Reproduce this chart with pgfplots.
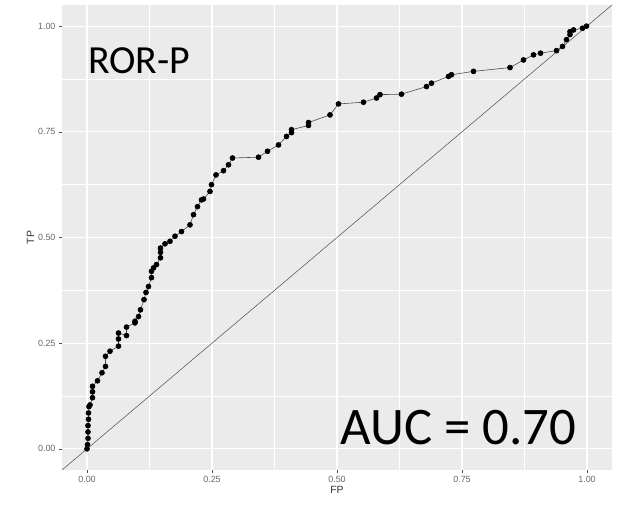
\documentclass[border=0pt]{standalone}
\usepackage{fontspec}
\setmainfont{Liberation Sans}
\newfontfamily\calibri{Carlito}
\usepackage{pgfplots}
\pgfplotsset{compat=1.18}
\definecolor{ggbg}{HTML}{EBEBEB}
\definecolor{ggtick}{HTML}{4D4D4D}

\pgfplotstableread{
fp tp
0.000 0.000
0.001 0.010
0.002 0.025
0.002 0.040
0.002 0.055
0.003 0.070
0.003 0.085
0.004 0.100
0.006 0.104
0.011 0.121
0.011 0.135
0.011 0.148
0.021 0.161
0.030 0.180
0.037 0.195
0.037 0.219
0.046 0.231
0.063 0.243
0.063 0.260
0.063 0.274
0.079 0.268
0.079 0.288
0.096 0.298
0.096 0.302
0.103 0.313
0.107 0.329
0.114 0.353
0.118 0.370
0.123 0.384
0.129 0.405
0.129 0.420
0.133 0.428
0.139 0.436
0.147 0.452
0.147 0.465
0.147 0.475
0.156 0.485
0.166 0.491
0.176 0.503
0.189 0.514
0.206 0.530
0.213 0.554
0.221 0.573
0.229 0.589
0.233 0.591
0.246 0.609
0.249 0.625
0.258 0.648
0.273 0.658
0.283 0.672
0.291 0.688
0.343 0.690
0.361 0.704
0.383 0.719
0.399 0.739
0.409 0.748
0.409 0.755
0.443 0.765
0.443 0.772
0.486 0.790
0.503 0.816
0.553 0.820
0.579 0.830
0.586 0.838
0.629 0.839
0.679 0.857
0.689 0.865
0.723 0.881
0.729 0.885
0.773 0.893
0.846 0.902
0.873 0.920
0.893 0.932
0.907 0.936
0.939 0.942
0.951 0.952
0.959 0.968
0.966 0.980
0.966 0.987
0.973 0.991
0.991 0.995
0.999 1.000
}\roc

\pgfplotstableread{
x y
-0.05 -0.05
1.05 1.05
}\diag

\begin{document}
\begin{tikzpicture}
\useasboundingbox (0,0) rectangle (621bp,506bp);
\begin{axis}[
  at={(62bp,36bp)}, anchor=south west,
  scale only axis, width=550bp, height=465bp,
  xmin=-0.05, xmax=1.05, ymin=-0.05, ymax=1.05,
  xtick={0,0.25,0.5,0.75,1}, ytick={0,0.25,0.5,0.75,1},
  xticklabels={0.00,0.25,0.50,0.75,1.00},
  yticklabels={0.00,0.25,0.50,0.75,1.00},
  minor tick num=1, minor tick length=0pt,
  xtick pos=bottom, ytick pos=left,
  tick align=outside, major tick length=3bp,
  tick style={color=ggtick, line width=0.5pt},
  axis line style={draw=none},
  axis background/.style={fill=ggbg},
  grid=both,
  major grid style={white, line width=1.2pt},
  minor grid style={white, line width=0.6pt},
  ticklabel style={font=\fontsize{9}{10}\selectfont, text=ggtick!85},
  /pgf/number format/assume math mode=true,
  xlabel={FP}, ylabel={TP},
  label style={font=\fontsize{10.5}{12}\selectfont, text=black!80},
  xlabel style={yshift=3bp},
  ylabel style={yshift=-3bp},
]
\addplot[no marks, color=black!70, line width=0.5pt] table[x=x, y=y] {\diag};
\addplot[color=black!70, line width=0.6pt, mark=*, mark size=2.5bp,
  mark options={fill=black, draw=black}] table[x=fp, y=tp] {\roc};
\node[anchor=base west, inner sep=0pt, font=\calibri\fontsize{40}{42}\selectfont]
  at (axis cs:0.002,0.887) {ROR-P};
\node[anchor=base west, inner sep=0pt, font=\calibri\fontsize{53}{56}\selectfont]
  at (axis cs:0.507,0.010) {AUC = 0.70};
\end{axis}
\end{tikzpicture}
\end{document}
